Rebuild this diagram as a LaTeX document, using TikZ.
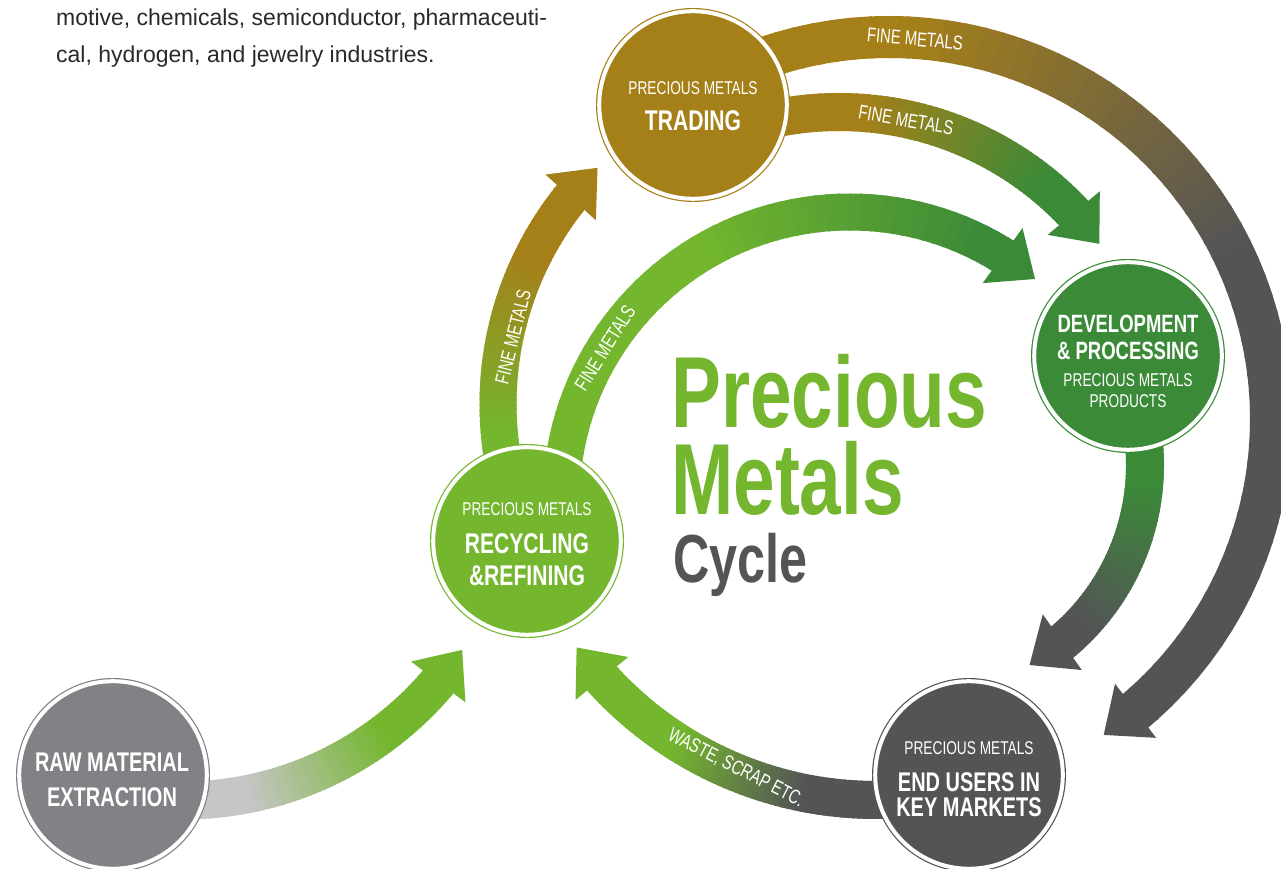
\documentclass[tikz,border=0pt]{standalone}
\usepackage{fontspec}
\setmainfont{Liberation Sans}[FakeStretch=0.74]
\newfontfamily\bodyfont{Liberation Sans}
\usetikzlibrary{calc}
\definecolor{gold}{HTML}{A58019}
\definecolor{lgreen}{HTML}{74B62E}
\definecolor{dgreen}{HTML}{3B8A38}
\definecolor{dgray}{HTML}{545456}
\definecolor{rgray}{HTML}{818285}
\definecolor{lgray}{HTML}{C6C6C6}
\definecolor{bodytext}{HTML}{2A2A2A}
% #1 centre, #2 radius, #3 start angle, #4 tip angle, #5 width, #6 start colour, #7 end colour, #8 t0, #9 t1
\newcommand\gband[9]{%
 \pgfmathsetmacro\gbdir{ifthenelse(#4<#3,-1,1)}%
 \pgfmathsetmacro\gbback{#4-(\gbdir)*40/#2*180/pi}%
 \pgfmathsetmacro\gbend{\gbback+(\gbdir)*6/#2*180/pi}%
 \foreach \i in {0,...,59}{%
   \pgfmathsetmacro\gba{#3+(\gbend-(#3))*\i/60}%
   \pgfmathsetmacro\gbb{#3+(\gbend-(#3))*(\i+1)/60+(\gbdir)*0.5}%
   \pgfmathtruncatemacro\gbp{max(0,min(100,100*(\i/59-#8)/(#9-#8)))}%
   \draw[line width=#5pt,draw=#7!\gbp!#6] ($(#1)+(\gba:#2pt)$) arc[start angle=\gba,end angle=\gbb,radius=#2pt];
 }%
 \coordinate (gbT) at ($(#1)+(#4:#2pt)$);
 \coordinate (gbB) at ($(#1)+(\gbback:#2pt)$);
 \fill[#7] (gbT) -- ($(gbB)!34pt!90:(gbT)$) -- ($(gbB)!34pt!-90:(gbT)$) -- cycle;
}
\tikzset{
 pmcirc/.style={circle, fill=#1, draw=#1, double=white, double distance=4pt, line width=1.2pt, minimum size=187.6pt, inner sep=0pt},
 smalltxt/.style={text=white, font=\fontsize{18.5}{20}\selectfont, anchor=base, inner sep=0pt},
 bigtxt/.style={text=white, font=\fontsize{27}{30}\selectfont\bfseries, anchor=base, inner sep=0pt},
 bigtxtl/.style={text=white, font=\fontsize{28.5}{30}\selectfont\bfseries, anchor=base, inner sep=0pt},
 devtxt/.style={text=white, font=\fontsize{25}{28}\selectfont\bfseries, anchor=base, inner sep=0pt},
 bandlbl/.style={text=white, font=\fontsize{20}{21}\selectfont, inner sep=0pt},
 bodyline/.style={anchor=base west, font=\bodyfont\fontsize{23}{25}\selectfont, text=bodytext, inner sep=0pt},
 titlegreen/.style={anchor=base west, text=lgreen, font=\fontsize{101}{102}\selectfont\bfseries, inner sep=0pt},
 titlegray/.style={anchor=base west, text=dgray, font=\fontsize{68}{70}\selectfont\bfseries, inner sep=0pt}
}
\begin{document}
\begin{tikzpicture}[x=1pt,y=1pt]
\useasboundingbox (0,0) rectangle (1281,869);
\fill[white] (0,0) rectangle (1281,869);

% bands
\gband{889,450}{382}{115}{-55.8}{42}{gold}{dgray}{0.16}{0.54}
\gband{839,434}{323}{105}{36.3}{38}{gold}{dgreen}{0.30}{0.87}
\gband{850,368}{289}{190}{50.2}{37}{lgreen}{dgreen}{0.52}{0.96}
\gband{828,465}{330}{195}{134.3}{37}{lgreen}{gold}{0.17}{0.75}
\gband{914,404}{231}{15}{-60}{38}{dgreen}{dgray}{0.29}{0.88}
\gband{876,439}{370}{-85}{-144}{38}{dgray}{lgreen}{0.30}{0.70}
\gband{182.5,403.5}{335}{-92}{-33.4}{38}{lgray}{lgreen}{0.24}{0.74}

% band labels
\node[bandlbl, rotate=76] (l3) at (513,532) {FINE METALS};
\node[bandlbl, rotate=58] (l4) at (605,521) {FINE METALS};
\node[bandlbl, rotate=-10] (l5) at (906,749) {FINE METALS};
\node[bandlbl, rotate=-5] (l6) at (915,830) {FINE METALS};
\node[bandlbl, rotate=-27] (l2) at (736,101) {WASTE, SCRAP ETC.};

% circles
\node[pmcirc=gold] (trad) at (693,764) {};
\node[pmcirc=lgreen] (rec) at (527,328) {};
\node[pmcirc=dgreen] (dev) at (1128,513) {};
\node[pmcirc=dgray] (endu) at (969,94) {};
\node[pmcirc=rgray] (raw) at (113,94) {};

% circle texts
\node[smalltxt] (t1) at (693,774) {PRECIOUS METALS};
\node[bigtxtl] (t2) at (693,738) {TRADING};
\node[smalltxt] (r1) at (527,353) {PRECIOUS METALS};
\node[bigtxtl] (r2) at (527,315) {RECYCLING};
\node[bigtxtl] (r3) at (527,283) {\&REFINING};
\node[devtxt] (d1) at (1128,536) {DEVELOPMENT};
\node[devtxt] (d2) at (1128,509) {\& PROCESSING};
\node[smalltxt] (d3) at (1128,482) {PRECIOUS METALS};
\node[smalltxt] (d4) at (1128,461) {PRODUCTS};
\node[smalltxt] (e1) at (969,114) {PRECIOUS METALS};
\node[bigtxt] (e2) at (969,77) {END USERS IN};
\node[bigtxt] (e3) at (969,52) {KEY MARKETS};
\node[bigtxt] (w1) at (112,97) {RAW MATERIAL};
\node[bigtxt] (w2) at (112,62) {EXTRACTION};

% title
\node[titlegreen] (ti1) at (671,441) {Precious};
\node[titlegreen] (ti2) at (671,354) {Metals};
\node[titlegray] (ti3) at (673,286) {Cycle};

% body text
\node[bodyline] (b1) at (56,843) {motive, chemicals, semiconductor, pharmaceuti-};
\node[bodyline] (b2) at (56,806) {cal, hydrogen, and jewelry industries.};
\end{tikzpicture}
\end{document}
